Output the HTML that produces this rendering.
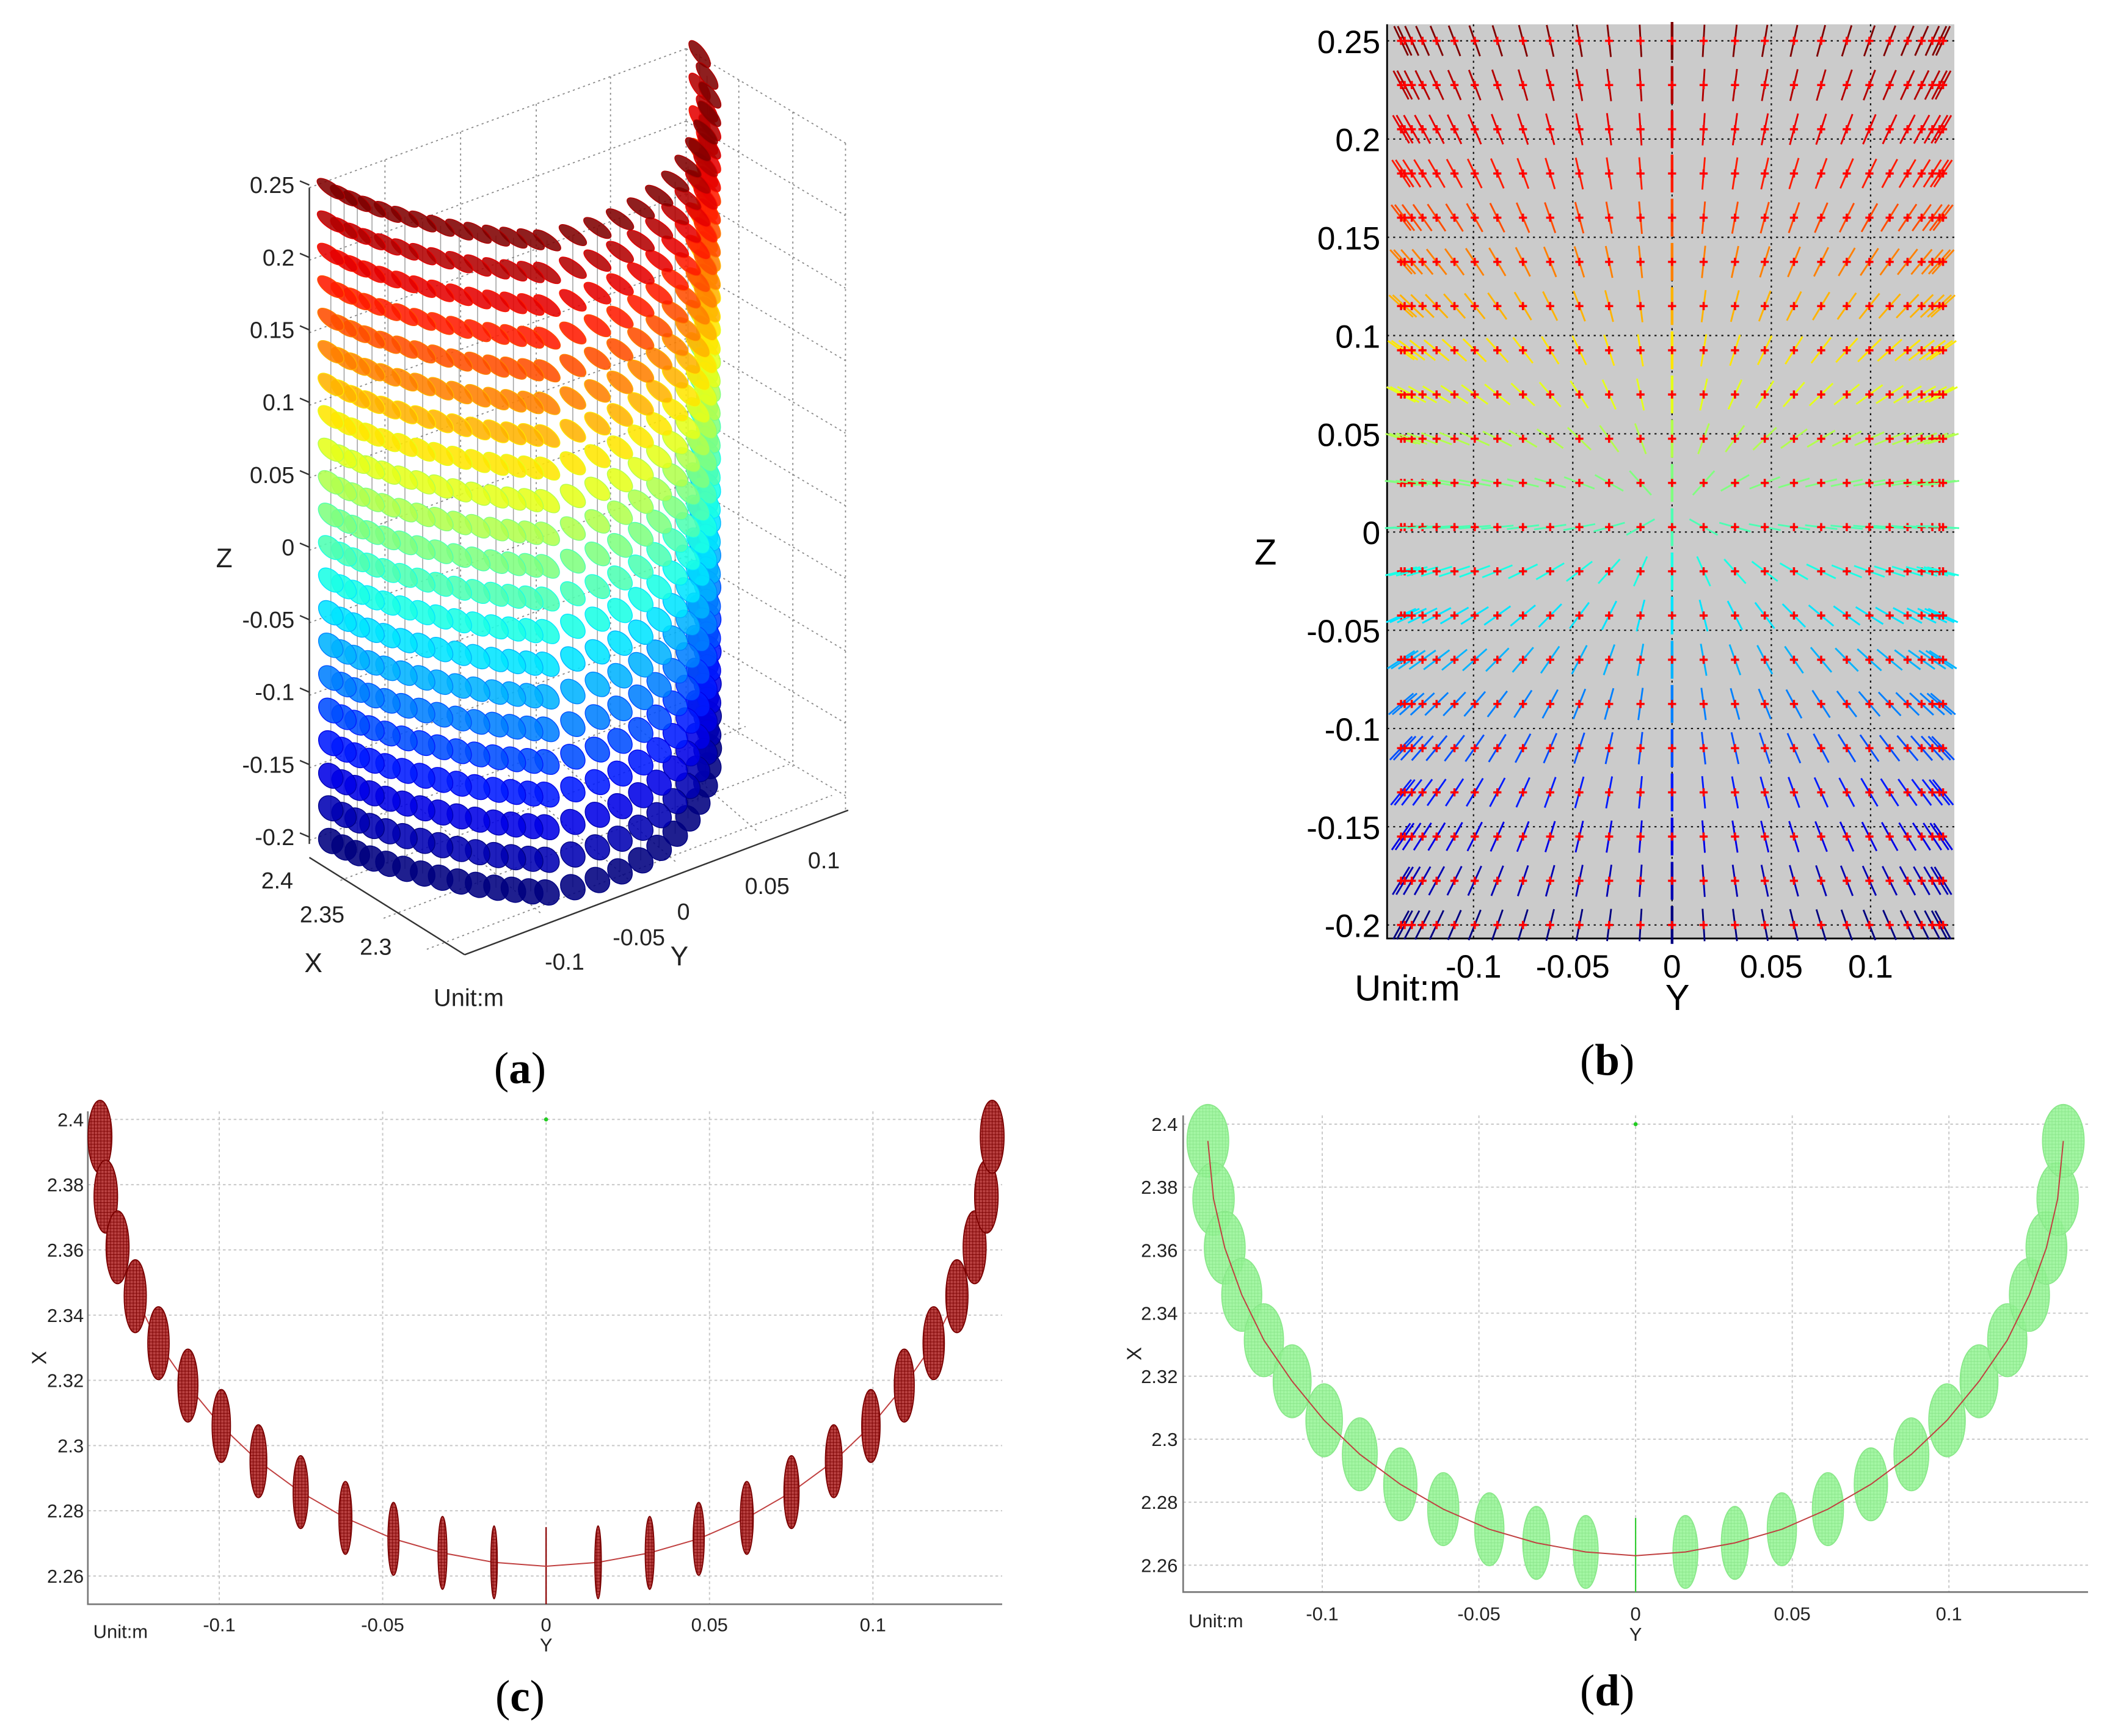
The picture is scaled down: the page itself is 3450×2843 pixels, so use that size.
<!DOCTYPE html>
<html><head><meta charset="utf-8"><style>
html,body{margin:0;padding:0;background:#fff}
svg{display:block}
text{font-family:"Liberation Sans",sans-serif}
</style></head><body>
<svg id="fig" xmlns="http://www.w3.org/2000/svg" width="3450" height="2843" viewBox="0 0 1560 1285.6">
<defs>
<pattern id="meshRed" width="2.4" height="2.4" patternUnits="userSpaceOnUse"><rect width="2.4" height="2.4" fill="#b84040"/><path d="M0 0H2.4M0 0V2.4" stroke="#7a0000" stroke-width="0.8"/></pattern>
<pattern id="meshGreen" width="2.4" height="2.4" patternUnits="userSpaceOnUse"><rect width="2.4" height="2.4" fill="#9af59a"/><path d="M0 0H2.4M0 0V2.4" stroke="#78e078" stroke-width="0.6"/></pattern>
</defs>
<rect width="1560" height="1285.6" fill="#fff"/>
<g id="pa"></g>
<g id="pb"></g>
<g id="pc"></g>
<g id="pd"></g>
<text x="385" y="802" font-size="33" text-anchor="middle" style="font-family:'Liberation Serif',serif">(<tspan font-weight="bold">a</tspan>)</text>
<text x="1190" y="796" font-size="33" text-anchor="middle" style="font-family:'Liberation Serif',serif">(<tspan font-weight="bold">b</tspan>)</text>
<text x="385" y="1267" font-size="33" text-anchor="middle" style="font-family:'Liberation Serif',serif">(<tspan font-weight="bold">c</tspan>)</text>
<text x="1190" y="1263" font-size="33" text-anchor="middle" style="font-family:'Liberation Serif',serif">(<tspan font-weight="bold">d</tspan>)</text>
</svg>
<script>
// ---- data ----
var yHalf = [0.0159,0.0317,0.0467,0.0614,0.0751,0.0880,0.0994,0.1096,0.1186,0.1257,0.1311,0.1347,0.1365];
var xHalf = [2.2642,2.2671,2.2714,2.2778,2.2857,2.2952,2.3060,2.3184,2.3314,2.3458,2.3608,2.3763,2.3947];
var yCenter = 0;
var xCenter = 2.2630;
var zRows = [-0.2,-0.1775,-0.155,-0.1325,-0.11,-0.0875,-0.065,-0.0425,-0.02,0.0025,0.025,0.0475,0.07,0.0925,0.115,0.1375,0.16,0.1825,0.205,0.2275,0.25];
var zTicks = [0.25,0.2,0.15,0.1,0.05,0,-0.05,-0.1,-0.15,-0.2];
var zTickLabels = ["0.25","0.2","0.15","0.1","0.05","0","-0.05","-0.1","-0.15","-0.2"];
var yTicks = [-0.1,-0.05,0,0.05,0.1];
var yTickLabels = ["-0.1","-0.05","0","0.05","0.1"];
var xTicks = [2.4,2.38,2.36,2.34,2.32,2.3,2.28,2.26];
var xTickLabels = ["2.4","2.38","2.36","2.34","2.32","2.3","2.28","2.26"];

var NS="http://www.w3.org/2000/svg";
function mk(tag,attrs,parent){var e=document.createElementNS(NS,tag);for(var k in attrs)e.setAttribute(k,attrs[k]);parent.appendChild(e);return e;}
function txt(s,attrs,parent){var e=mk('text',attrs,parent);e.textContent=s;return e;}
function jet(t){t=Math.max(0,Math.min(1,t));function c(v){return Math.round(255*Math.max(0,Math.min(1,v)));}
 return 'rgb('+c(1.5-Math.abs(4*t-3))+','+c(1.5-Math.abs(4*t-2))+','+c(1.5-Math.abs(4*t-1))+')';}

var cols=[];
for(var i=yHalf.length-1;i>=0;i--)cols.push({y:-yHalf[i],x:xHalf[i]});
cols.push({y:yCenter,x:xCenter});
for(var i=0;i<yHalf.length;i++)cols.push({y:yHalf[i],x:xHalf[i]});
function zt(z){return (z+0.2)/0.45;}

// ================= Panel A (3D) =================
(function(){
var g=document.getElementById('pa');
function P(x,y,z){
 var dx=x-xCenter, sx, sy;
 if(y<0){sx=405+726*y-463*dx; sy=178+28*y-260*dx;}
 else{sx=405+1231*y-418*dx; sy=178-178*y-863*dx;}
 return [sx, sy+(0.25-z)*1073];
}
var gr=mk('g',{stroke:'#888','stroke-width':0.8,'stroke-dasharray':'1.5 2.5',fill:'none'},g);


for(var k=0;k<10;k++){var d=k*53.7;
 mk('line',{x1:229,y1:139+d,x2:508,y2:36+d},gr);
 mk('line',{x1:508,y1:36+d,x2:626,y2:106+d},gr);}
[285,341,397,452].forEach(function(x){var yy=139-(x-229)*0.369;mk('line',{x1:x,y1:yy,x2:x,y2:yy+485},gr);});
[547,587].forEach(function(x){var yy=36+(x-508)*0.593;mk('line',{x1:x,y1:yy,x2:x,y2:yy+485},gr);});
mk('line',{x1:626,y1:106,x2:626,y2:600},gr);
mk('line',{x1:508,y1:36,x2:508,y2:520},gr);
[[252,652],[284,680],[316,703]].forEach(function(p){mk('line',{x1:p[0],y1:p[1],x2:p[0]+300,y2:p[1]-114},gr);});
[[400,676],[465,651],[500,638],[560,615]].forEach(function(p){mk('line',{x1:p[0],y1:p[1],x2:p[0]-90,y2:p[1]-78},gr);});
var ax=mk('g',{stroke:'#333','stroke-width':1.1,fill:'none'},g);


mk('line',{x1:229,y1:139,x2:229,y2:625},ax);
mk('line',{x1:229,y1:635,x2:344,y2:707},ax);
mk('line',{x1:344,y1:707,x2:628,y2:600},ax);
zTicks.forEach(function(z,i){var yy=137+(0.25-z)*1073;mk('line',{x1:222,y1:yy-3,x2:229,y2:yy},ax);
 var t=txt(zTickLabels[i],{x:218,y:yy+6,'font-size':17,'text-anchor':'end',fill:'#222'},g);
 
 });
var xl=[["2.4",217,658],["2.35",255,683],["2.3",290,707]];
xl.forEach(function(a){var t=txt(a[0],{x:a[1],y:a[2],'font-size':17,'text-anchor':'end',fill:'#222'},g);
 
 });
var yl=[["-0.1",418,718],["-0.05",473,700],["0",506,681],["0.05",568,662],["0.1",610,643]];
yl.forEach(function(a){var t=txt(a[0],{x:a[1],y:a[2],'font-size':17,'text-anchor':'middle',fill:'#222'},g);
 
 });
var t1=txt('Z',{x:166,y:420,'font-size':20,'text-anchor':'middle',fill:'#222'},g);


var t2=txt('X',{x:232,y:720,'font-size':20,'text-anchor':'middle',fill:'#222'},g);


var t3=txt('Y',{x:503,y:715,'font-size':20,'text-anchor':'middle',fill:'#222'},g);


var t4=txt('Unit:m',{x:347,y:745,'font-size':18,'text-anchor':'middle',fill:'#222'},g);


var cl=mk('g',{stroke:'#666','stroke-width':0.7,opacity:0.6},g);


cols.forEach(function(c){var a=P(c.x,c.y,zRows[zRows.length-1]),b=P(c.x,c.y,zRows[0]);mk('line',{x1:a[0],y1:a[1],x2:b[0],y2:b[1]},cl);});
var order=cols.slice().sort(function(a,b){return b.y-a.y;});
order.forEach(function(c){
 zRows.forEach(function(z){
  var p=P(c.x,c.y,z),t=zt(z);
  var ry=4.5+(1-t)*4, rx=12-(1-t)*2, rot=35+(1-t)*15;
  if(c.y>0.09){rot=rot+20*(c.y-0.09)/0.05;}
  var e=mk('ellipse',{cx:p[0].toFixed(1),cy:p[1].toFixed(1),rx:rx.toFixed(1),ry:ry.toFixed(1),fill:jet(t),stroke:jet(Math.max(0,t-0.05)),'stroke-width':0.6,'fill-opacity':0.88,transform:'rotate('+rot.toFixed(1)+' '+p[0].toFixed(1)+' '+p[1].toFixed(1)+')'},g);
  
  
 });
});
})();

// ================= Panel B =================
(function(){
var g=document.getElementById('pb');
var L=1027,R=1447,T=18,B=695;
function sx(y){return 1238+y*1470;}
function sy(z){return 394-z*1455;}
var bg=mk('rect',{x:L,y:T,width:R-L,height:B-T,fill:'#cbcbcb'},g);


var gr=mk('g',{stroke:'#111','stroke-width':1,'stroke-dasharray':'1.5 3'},g);


zTicks.forEach(function(z){mk('line',{x1:L,y1:sy(z),x2:R,y2:sy(z)},gr);});
yTicks.forEach(function(y){mk('line',{x1:sx(y),y1:T,x2:sx(y),y2:B},gr);});
var ax=mk('path',{d:'M'+L+' '+T+'V'+B+'H'+R,stroke:'#000','stroke-width':1.3,fill:'none'},g);


zTicks.forEach(function(z,i){var t=txt(zTickLabels[i],{x:1022,y:sy(z)+9,'font-size':24,'text-anchor':'end',fill:'#000'},g);
 
 });
yTicks.forEach(function(y,i){var t=txt(yTickLabels[i],{x:sx(y),y:724,'font-size':24,'text-anchor':'middle',fill:'#000'},g);
 
 });
var a1=txt('Z',{x:937,y:418,'font-size':27,'text-anchor':'middle',fill:'#000'},g);


var a2=txt('Y',{x:1242,y:748,'font-size':27,'text-anchor':'middle',fill:'#000'},g);


var a3=txt('Unit:m',{x:1042,y:741,'font-size':27,'text-anchor':'middle',fill:'#000'},g);


cols.forEach(function(c){
 var s=c.y/0.14;
 zRows.forEach(function(z){
  var cx=sx(c.y),cy=sy(z);
  var vx=s, vy=8.5*(z-0.01);
  if(Math.abs(vx)<1e-6){vx=0;vy=1;}
  var n=Math.sqrt(vx*vx+vy*vy);vx/=n;vy/=n;
  var len=c.y===0?14:12;
  var ln=mk('line',{x1:(cx-vx*len).toFixed(1),y1:(cy+vy*len).toFixed(1),x2:(cx+vx*len).toFixed(1),y2:(cy-vy*len).toFixed(1),stroke:jet(zt(z)),'stroke-width':c.y===0?2:1.3},g);
  
  
  var cr=mk('path',{d:'M'+(cx-3)+' '+cy+'h6M'+cx+' '+(cy-3)+'v6',stroke:'#ff0000','stroke-width':1.6},g);
  
  
 });
});
})();

// ================= Panels C & D =================
function xyPanel(id,box,y0,ky,x24,kx,tickX,labY,kind){
 var g=document.getElementById(id);
 function sx(y){return y0+y*ky;}
 function sy(x){return x24+(2.4-x)*kx;}
 var gr=mk('g',{stroke:'#c8c8c8','stroke-width':0.9,'stroke-dasharray':'2 2'},g);
 
 
 xTicks.forEach(function(x){mk('line',{x1:box[0],y1:sy(x),x2:box[2],y2:sy(x)},gr);});
 yTicks.forEach(function(y){mk('line',{x1:sx(y),y1:box[1],x2:sx(y),y2:box[3]},gr);});
 var ax=mk('path',{d:'M'+box[0]+' '+box[1]+'V'+box[3]+'H'+box[2],stroke:'#777','stroke-width':1.2,fill:'none'},g);
 
 
 xTicks.forEach(function(x,i){var t=txt(xTickLabels[i],{x:tickX,y:sy(x)+5,'font-size':14,'text-anchor':'end',fill:'#222'},g);
  
  });
 yTicks.forEach(function(y,i){var t=txt(yTickLabels[i],{x:sx(y),y:labY,'font-size':14,'text-anchor':'middle',fill:'#222'},g);
  
  });
 var u=txt('Unit:m',{x:box[0]+4,y:labY+5,'font-size':14,fill:'#222'},g);
 
 
 var yt=txt('Y',{x:sx(0),y:labY+15,'font-size':14,'text-anchor':'middle',fill:'#222'},g);
 
 
 var xm=(box[1]+box[3])/2;
 var xt=txt('X',{x:box[0]-36,y:xm+5,'font-size':15,'text-anchor':'middle',fill:'#222',transform:'rotate(-90 '+(box[0]-36)+' '+xm+')'},g);
 
 
 var dot=mk('circle',{cx:sx(0),cy:sy(2.4),r:1.5,fill:'#2c2'},g);
 
 
 var cl=mk('line',{x1:sx(0),y1:sy(2.275),x2:sx(0),y2:box[3],stroke:kind==='c'?'#8b0000':'#3c3','stroke-width':1},g);
 
 
 var pts=cols.map(function(c){return sx(c.y).toFixed(1)+','+sy(c.x).toFixed(1);}).join(' ');
 function drawEllipses(){
 cols.forEach(function(c){
  if(c.y===0)return;
  var s=Math.abs(c.y)/0.1365;
  var rx,ry,fill,stroke;
  if(kind==='c'){rx=1.6+7.2*s;ry=27;fill='url(#meshRed)';stroke='#7a0000';}
  else{rx=8.4+7*s;ry=27;fill='url(#meshGreen)';stroke='#8ae88a';}
  var e=mk('ellipse',{cx:sx(c.y).toFixed(1),cy:sy(c.x).toFixed(1),rx:rx.toFixed(1),ry:ry,fill:fill,stroke:stroke,'stroke-width':0.8,'fill-opacity':kind==='c'?1:0.9},g);
  
  
 });}
 if(kind==='d')drawEllipses();
 var pl=mk('polyline',{points:pts,fill:'none',stroke:'#c04040','stroke-width':0.9},g);
 
 
 if(kind==='c')drawEllipses();
}
xyPanel('pc',[65,823,742,1188],404.3,2420,829,2415,62,1208,'c');
xyPanel('pd',[876,826,1546,1179],1211,2320,832.5,2333,872,1200,'d');
</script>
</body></html>
